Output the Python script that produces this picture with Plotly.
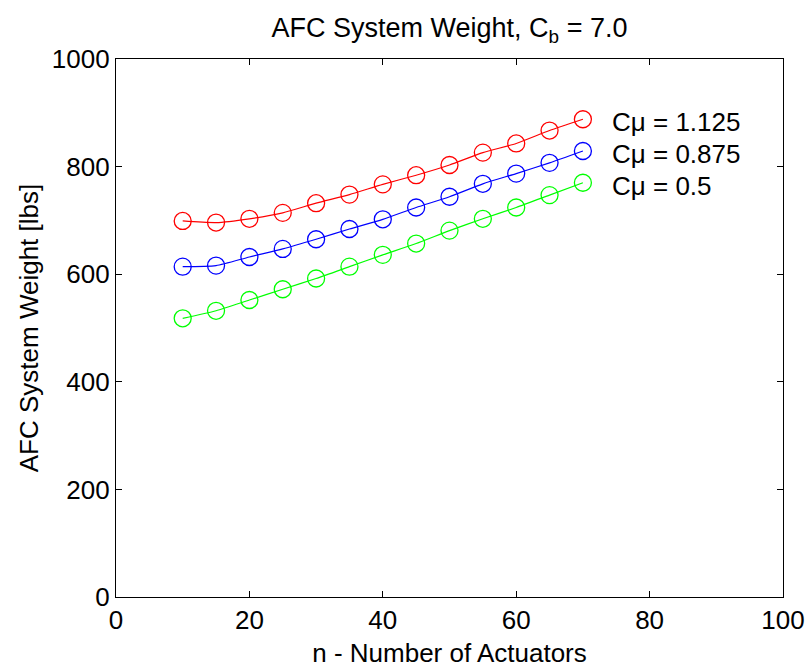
import plotly.graph_objects as go

n_actuators = [10, 15, 20, 25, 30, 35, 40, 45, 50, 55, 60, 65, 70]
w_cmu_1125 = [699, 696, 703, 714, 732, 748, 767, 784, 803, 826, 843, 867, 888]
w_cmu_0875 = [614, 616, 632, 647, 665, 684, 702, 724, 744, 768, 787, 807, 829]
w_cmu_05 = [518, 532, 552, 572, 592, 614, 636, 657, 681, 703, 724, 747, 770]

labels = ["Cμ = 1.125", "Cμ = 0.875", "Cμ = 0.5"]
label_y = [883, 823, 764]
label_x = 74.0

series = [(w_cmu_1125, "#ff0000"), (w_cmu_0875, "#0000ff"), (w_cmu_05, "#00ff00")]

FONT = "Liberation Sans, Arial, Helvetica, sans-serif"

fig = go.Figure()
for (vals, col), lab in zip(series, labels):
    fig.add_trace(go.Scatter(
        x=n_actuators, y=vals, mode="lines+markers", name=lab,
        line=dict(color=col, width=1.2, shape="spline", smoothing=0.6),
        marker=dict(symbol="circle-open", size=17, color=col, line=dict(width=1.3, color=col)),
        showlegend=False,
    ))

for lab, ly in zip(labels, label_y):
    fig.add_annotation(x=label_x, y=ly, text=lab, showarrow=False, xanchor="left",
                       yanchor="middle", font=dict(size=26, color="black", family=FONT))

axis_common = dict(showline=True, linecolor="black", linewidth=1.2, mirror="allticks",
                   ticks="inside", ticklen=6, tickcolor="black", tickwidth=1,
                   showgrid=False, zeroline=False, automargin=False,
                   tickfont=dict(size=26, color="black", family=FONT))

fig.update_xaxes(range=[0, 100], tickvals=[0, 20, 40, 60, 80, 100],
                 title=dict(text="n - Number of Actuators", font=dict(size=26, color="black", family=FONT), standoff=9),
                 **axis_common)
fig.update_yaxes(range=[0, 1000], tickvals=[0, 200, 400, 600, 800, 1000],
                 title=dict(text="AFC System Weight [lbs]", font=dict(size=26, color="black", family=FONT), standoff=5),
                 **axis_common)

fig.update_layout(
    width=807, height=668,
    margin=dict(l=116, r=24, t=59, b=71, autoexpand=False),
    paper_bgcolor="white", plot_bgcolor="white",
    title=dict(text="AFC System Weight, C<sub>b</sub> = 7.0", x=0.557, xanchor="center",
               y=0.959, yanchor="middle", font=dict(size=27, color="black", family=FONT)),
)

fig.write_html("out.html", config={"displayModeBar": False},
               post_script="document.body.style.margin='0px';")
